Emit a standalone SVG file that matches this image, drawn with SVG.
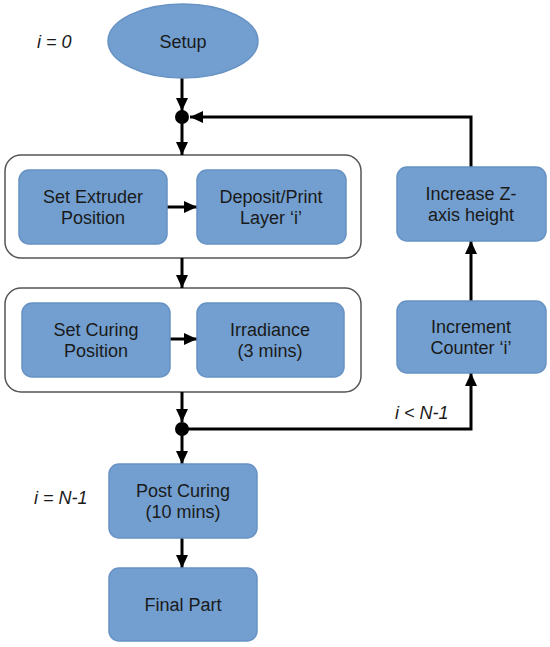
<svg xmlns="http://www.w3.org/2000/svg" width="550" height="647" viewBox="0 0 550 647">
<style>
.box{fill:#729fcf;stroke:#6792c4;stroke-width:1.5}
.cont{fill:#ffffff;stroke:#555555;stroke-width:1.5}
.t{font-family:"Liberation Sans",Arial,sans-serif;font-size:18px;fill:#1a1a1a;text-anchor:middle}
.lbl{font-family:"Liberation Sans",Arial,sans-serif;font-size:18px;fill:#1a1a1a;font-style:italic}
.c{fill:none;stroke:#000;stroke-width:3}
</style>
<defs>
<marker id="ah" markerUnits="userSpaceOnUse" markerWidth="14" markerHeight="14" refX="13" refY="7" orient="auto">
<path d="M0,1 L13,7 L0,13 z" fill="#000"/>
</marker>
</defs>
<rect width="550" height="647" fill="#fff"/>
<g id="container1"><rect class="cont" x="5" y="155" width="356" height="103" rx="16"/></g>
<g id="container2"><rect class="cont" x="5" y="288" width="356" height="104" rx="16"/></g>
<g id="connectors">
<line class="c" x1="182" y1="78" x2="182" y2="111" marker-end="url(#ah)"/>
<line class="c" x1="182" y1="117" x2="182" y2="155" marker-end="url(#ah)"/>
<path class="c" d="M471,167 V117 H190" marker-end="url(#ah)"/>
<line class="c" x1="167" y1="207" x2="197" y2="207" marker-end="url(#ah)"/>
<line class="c" x1="182" y1="258" x2="182" y2="288" marker-end="url(#ah)"/>
<line class="c" x1="170" y1="339" x2="197" y2="339" marker-end="url(#ah)"/>
<line class="c" x1="182" y1="392" x2="182" y2="422" marker-end="url(#ah)"/>
<line class="c" x1="182" y1="429" x2="182" y2="464" marker-end="url(#ah)"/>
<path class="c" d="M182,429 H471 V373" marker-end="url(#ah)"/>
<line class="c" x1="471" y1="301" x2="471" y2="241" marker-end="url(#ah)"/>
<line class="c" x1="182" y1="538" x2="182" y2="568" marker-end="url(#ah)"/>
<circle cx="182" cy="117" r="7" fill="#000"/>
<circle cx="182" cy="429" r="7" fill="#000"/>
</g>
<g id="setup"><ellipse class="box" cx="183" cy="41" rx="75" ry="37"/><text class="t" x="183" y="48">Setup</text></g>
<g id="setExtruder"><rect class="box" x="19" y="170" width="148" height="74" rx="10"/><text class="t" x="93" y="203">Set Extruder</text><text class="t" x="93" y="224">Position</text></g>
<g id="deposit"><rect class="box" x="197" y="170" width="149" height="74" rx="10"/><text class="t" x="271" y="203">Deposit/Print</text><text class="t" x="271" y="224">Layer ‘i’</text></g>
<g id="setCuring"><rect class="box" x="22" y="303" width="148" height="74" rx="10"/><text class="t" x="96" y="336">Set Curing</text><text class="t" x="96" y="357">Position</text></g>
<g id="irradiance"><rect class="box" x="197" y="303" width="147" height="74" rx="10"/><text class="t" x="270" y="336">Irradiance</text><text class="t" x="270" y="357">(3 mins)</text></g>
<g id="increaseZ"><rect class="box" x="397" y="167" width="149" height="74" rx="10"/><text class="t" x="471" y="200">Increase Z-</text><text class="t" x="471" y="221">axis height</text></g>
<g id="increment"><rect class="box" x="397" y="301" width="149" height="72" rx="10"/><text class="t" x="471" y="333">Increment</text><text class="t" x="471" y="354">Counter ‘i’</text></g>
<g id="postCuring"><rect class="box" x="109" y="464" width="148" height="74" rx="10"/><text class="t" x="183" y="497">Post Curing</text><text class="t" x="183" y="518">(10 mins)</text></g>
<g id="finalPart"><rect class="box" x="109" y="568" width="148" height="73" rx="10"/><text class="t" x="183" y="611">Final Part</text></g>
<g id="labels">
<text class="lbl" x="37" y="48">i = 0</text>
<text class="lbl" x="34" y="504">i = N-1</text>
<text class="lbl" x="395" y="419">i &lt; N-1</text>
</g>
</svg>
